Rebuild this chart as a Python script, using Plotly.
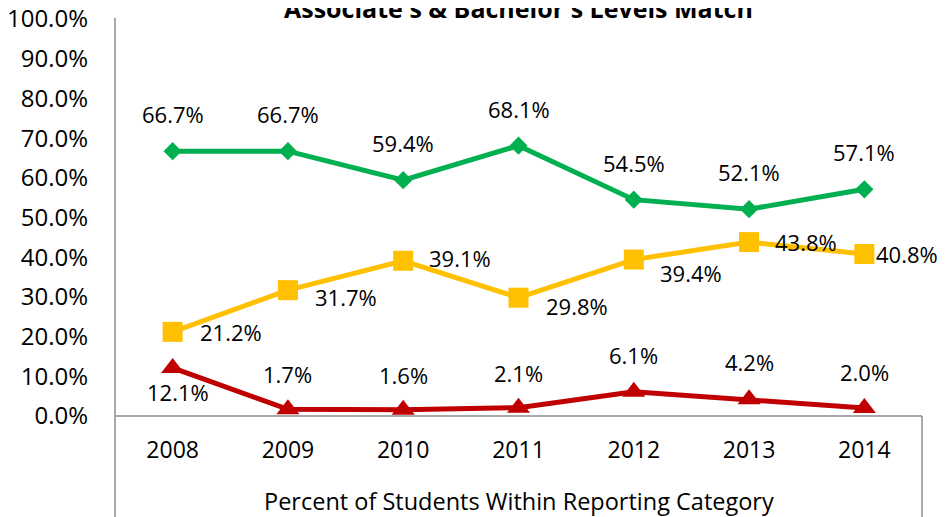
import plotly.graph_objects as go

years = ["2008", "2009", "2010", "2011", "2012", "2013", "2014"]
green_vals = [66.7, 66.7, 59.4, 68.1, 54.5, 52.1, 57.1]
yellow_vals = [21.2, 31.7, 39.1, 29.8, 39.4, 43.8, 40.8]
red_vals = [12.1, 1.7, 1.6, 2.1, 6.1, 4.2, 2.0]
y_ticks = [0, 10, 20, 30, 40, 50, 60, 70, 80, 90, 100]

# label offsets (pixels) - styling only
green_off = [(0, 37)] * 7
yellow_off = [(58, 0), (58, -7), (57, 3), (58, -8), (57, -13), (57, 0), (43, 0)]
red_off = [(5, -24), (0, 35), (0, 35), (0, 35), (0, 37), (0, 37), (0, 36)]

FONT = "Open Sans"
W, H = 946, 517
OFF = 8  # page body margin
ML, MR, MT, MB = 115 - OFF, 24 + OFF, 19 - OFF, 101 + OFF
plot_h = H - MT - MB
vis_bottom = -(517 - 416) / plot_h

x_idx = list(range(len(years)))

fig = go.Figure()
series = [
    (green_vals, "#00B050", "diamond", 14, green_off),
    (yellow_vals, "#FFC000", "square", 20, yellow_off),
    (red_vals, "#C00000", "triangle-up", 20, red_off),
]
annotations = []
for vals, col, sym, sz, offs in series:
    fig.add_trace(go.Scatter(
        x=x_idx, y=vals, mode="lines+markers",
        line=dict(color=col, width=5),
        marker=dict(symbol=sym, size=sz, color=col, line=dict(width=0)),
        hoverinfo="skip", showlegend=False, cliponaxis=False,
    ))
    for i, v in enumerate(vals):
        dx, dy = offs[i]
        annotations.append(dict(
            x=i, y=v, xref="x", yref="y", text=f"{v:.1f}%", showarrow=False,
            xshift=dx, yshift=dy, font=dict(family=FONT, size=22, color="#000000"),
        ))

# title (clipped at top)
annotations.append(dict(
    x=0.5, xref="paper", y=1 + (19 - 8) / plot_h,
    yref="paper", yanchor="middle", xanchor="center", showarrow=False,
    text="<b>Associate's & Bachelor's Levels Match</b>",
    font=dict(family=FONT, size=25, color="#000000"),
))
# x-axis title
annotations.append(dict(
    x=0.5, xref="paper", y=-(501 - 416) / plot_h, yref="paper",
    yanchor="middle", xanchor="center", showarrow=False,
    text="Percent of Students Within Reporting Category",
    font=dict(family=FONT, size=23.5, color="#000000"),
))

line_style = dict(color="#8C8C8C", width=1.5)
shapes = [
    dict(type="line", xref="paper", yref="paper", x0=0, x1=0, y0=1.003, y1=vis_bottom - 0.05, line=line_style),
    dict(type="line", xref="paper", yref="paper", x0=0, x1=1, y0=0, y1=0, line=line_style),
    dict(type="line", xref="paper", yref="paper", x0=1, x1=1, y0=0, y1=vis_bottom - 0.05, line=line_style),
]

fig.update_layout(
    width=W, height=H,
    margin=dict(l=ML, r=MR, t=MT, b=MB, autoexpand=False),
    paper_bgcolor="white", plot_bgcolor="white",
    annotations=annotations, shapes=shapes,
    xaxis=dict(
        range=[-0.5, len(years) - 0.5], tickmode="array", tickvals=x_idx, ticktext=years,
        showgrid=False, zeroline=False, showline=False, ticks="", automargin=False,
        tickfont=dict(family=FONT, size=23, color="#000000"), ticklabelstandoff=18,
        ticklabeloverflow="allow",
    ),
    yaxis=dict(
        range=[0, 100], tickmode="array", tickvals=y_ticks,
        ticktext=[f"{t:.1f}%" for t in y_ticks],
        showgrid=False, zeroline=False, showline=False, ticks="", automargin=False,
        tickfont=dict(family=FONT, size=24, color="#000000"), ticklabelstandoff=26,
        ticklabeloverflow="allow",
    ),
)
fig.write_html("out.html")
